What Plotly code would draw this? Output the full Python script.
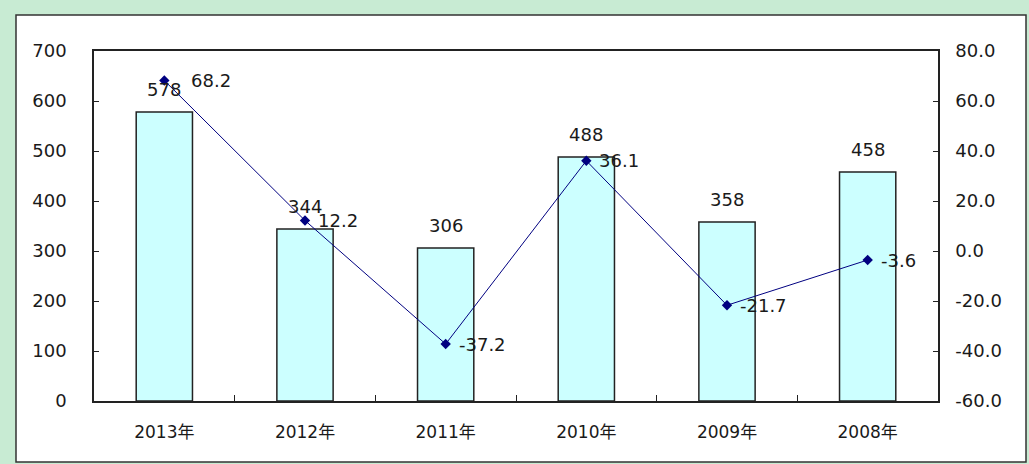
import plotly.graph_objects as go

# Annual figures: count (bars, left axis) and growth rate % (line, right axis)
years = ["2013年", "2012年", "2011年", "2010年", "2009年", "2008年"]
counts = [578, 344, 306, 488, 358, 458]
growth = [68.2, 12.2, -37.2, 36.1, -21.7, -3.6]

left_ticks = [0, 100, 200, 300, 400, 500, 600, 700]
right_ticks = [-60, -40, -20, 0, 20, 40, 60, 80]

W, H = 1029, 464
M_L, M_R, M_T, M_B = 94, 91, 51, 63
PW, PH = W - M_L - M_R, H - M_T - M_B


def px_x(px):
    return (px - M_L) / PW


def px_y(py):
    return (H - M_B - py) / PH


FONT = "DejaVu Sans"
INK = "#1a1a1a"

fig = go.Figure()

fig.add_trace(go.Bar(
    x=years, y=counts, width=0.4,
    marker=dict(color="#ccffff", line=dict(color="#222222", width=1.5)),
    yaxis="y", hoverinfo="skip",
))

fig.add_trace(go.Scatter(
    x=years, y=growth, yaxis="y2", mode="lines+markers",
    line=dict(color="#000080", width=1),
    marker=dict(symbol="diamond", size=8, color="#000080"),
    hoverinfo="skip",
))

annotations = []
for yr, c in zip(years, counts):
    annotations.append(dict(
        x=yr, y=c, xref="x", yref="y", text=str(c), showarrow=False,
        yshift=23, font=dict(family=FONT, size=18, color=INK),
    ))
for i, (yr, g) in enumerate(zip(years, growth)):
    annotations.append(dict(
        x=yr, y=g, xref="x", yref="y2", text=f"{g:.1f}", showarrow=False,
        xanchor="left", xshift=25 if i == 0 else 11,
        font=dict(family=FONT, size=18, color=INK),
    ))

fig.update_layout(
    width=W, height=H,
    margin=dict(l=M_L, r=M_R, t=M_T, b=M_B, pad=0),
    paper_bgcolor="#c8ebd3",
    plot_bgcolor="white",
    showlegend=False,
    bargap=0.6,
    xaxis=dict(
        showline=True, linecolor="#222222", linewidth=1.5, mirror=True,
        ticks="inside", tickson="boundaries", ticklen=6, tickcolor="#222222",
        showgrid=False, ticklabelstandoff=15,
        tickfont=dict(family="DejaVu Sans, Noto Sans CJK SC", size=17, color=INK),
    ),
    yaxis=dict(
        range=[0, 700], tickvals=left_ticks, ticktext=[str(v) for v in left_ticks],
        showline=True, linecolor="#222222", linewidth=1.5,
        ticks="inside", ticklen=5, tickcolor="#222222",
        showgrid=False, zeroline=False, ticklabelstandoff=22,
        tickfont=dict(family=FONT, size=18, color=INK),
    ),
    yaxis2=dict(
        range=[-60, 80], overlaying="y", side="right",
        tickvals=right_ticks, ticktext=[f"{v:.1f}" for v in right_ticks],
        showline=True, linecolor="#222222", linewidth=1.5,
        ticks="inside", ticklen=5, tickcolor="#222222",
        showgrid=False, zeroline=False, ticklabelstandoff=12,
        tickfont=dict(family=FONT, size=18, color=INK),
    ),
    annotations=annotations,
    shapes=[dict(
        type="rect", xref="paper", yref="paper", layer="below",
        x0=px_x(16), x1=px_x(1026), y0=px_y(462), y1=px_y(15),
        fillcolor="white", line=dict(color="#333333", width=1.5),
    )],
)

fig.write_html("out.html")
